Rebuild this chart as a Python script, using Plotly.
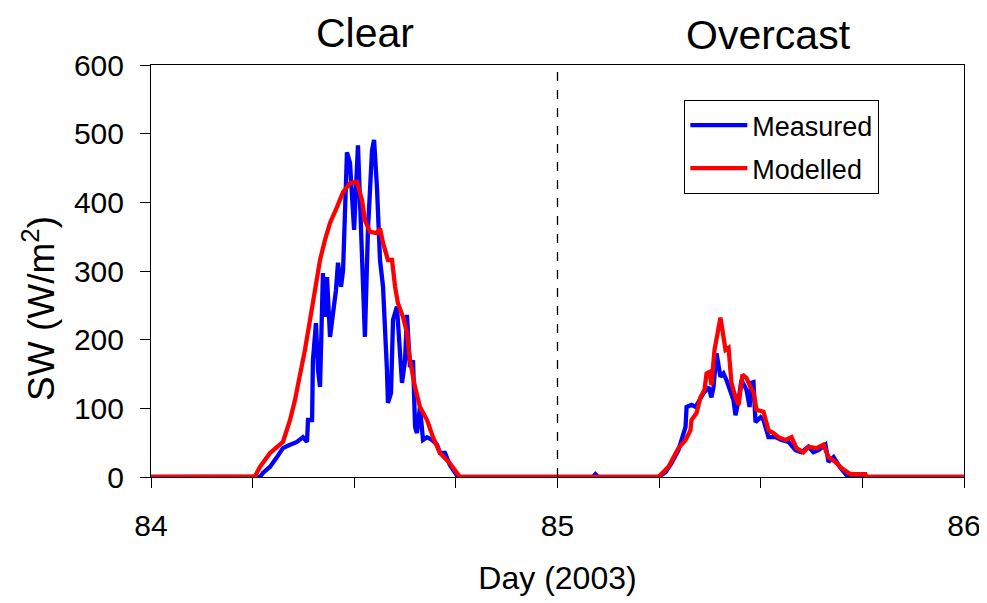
import plotly.graph_objects as go

# ---------------- data (hours of the day, SW in W/m^2) ----------------
clear_meas_hr = [6.44, 6.61, 7.03, 7.44, 7.79, 8.21, 8.62, 8.97, 9.21, 9.27, 9.51, 9.56, 9.74, 9.86, 9.98,
                 10.15, 10.27, 10.39, 10.57, 10.75, 10.92, 11.04, 11.22, 11.34, 11.57, 11.75, 11.99, 12.22,
                 12.40, 12.63, 12.81, 13.05, 13.17, 13.34, 13.52, 13.70, 13.93, 13.99, 14.17, 14.29, 14.52,
                 14.70, 14.82, 15.00, 15.11, 15.29, 15.47, 15.59, 15.70, 15.88, 16.06, 16.30, 16.59, 16.89,
                 17.06, 17.36, 17.65, 17.95, 18.13]
clear_meas_sw = [0, 6, 15, 29, 42, 47, 51, 58, 51, 83, 83, 170, 224, 156, 131,
                 297, 233, 291, 204, 239, 272, 312, 277, 301, 473, 457, 360, 483,
                 341, 204, 360, 476, 491, 422, 316, 277, 156, 108, 122, 229, 248,
                 180, 137, 170, 236, 160, 170, 73, 64, 102, 54, 58, 54, 47,
                 35, 35, 17, 6, 0]

clear_mod_hr = [6.00, 6.14, 6.44, 7.03, 7.79, 8.21, 8.50, 8.80, 9.09, 9.39, 9.68, 9.98, 10.27, 10.57, 10.98,
                11.34, 11.75, 12.16, 12.46, 12.63, 12.93, 13.34, 13.52, 13.70, 13.99, 14.23, 14.41, 14.58,
                14.88, 15.11, 15.29, 15.59, 15.88, 16.30, 16.65, 17.06, 17.65, 18.07, 18.24]
clear_mod_sw = [0, 1, 15, 35, 51, 83, 112, 146, 185, 229, 277, 316, 345, 370, 393,
                415, 428, 430, 403, 374, 357, 355, 362, 341, 316, 316, 277, 253,
                233, 210, 170, 131, 102, 83, 58, 35, 20, 6, 0]

over_meas_hr = [2.10, 2.24, 2.40, 5.96, 6.38, 6.73, 7.14, 7.44, 7.56, 7.62, 7.91, 8.15, 8.32, 8.62, 8.92,
                9.09, 9.21, 9.39, 9.62, 9.80, 9.98, 10.21, 10.39, 10.51, 10.69, 10.86, 11.16, 11.34,
                11.45, 11.57, 11.69, 11.99, 12.16, 12.46, 12.87, 13.22, 13.64, 14.05, 14.41, 14.82,
                15.11, 15.41, 15.82, 16.00, 16.30, 16.71, 17.06, 17.30]
over_meas_sw = [0, 4, 0, 0, 7, 20, 39, 64, 73, 102, 105, 102, 109, 122, 131,
                116, 131, 180, 146, 151, 141, 122, 112, 90, 112, 141, 127, 102,
                137, 138, 80, 87, 83, 58, 58, 54, 51, 39, 36, 44,
                36, 39, 47, 22, 29, 13, 3, 0]

over_mod_hr = [5.96, 6.55, 7.14, 7.56, 7.85, 7.91, 8.21, 8.44, 8.68, 8.80, 8.97, 9.09, 9.27, 9.45, 9.62,
               9.74, 9.92, 10.10, 10.27, 10.51, 10.69, 10.92, 11.16, 11.39, 11.57, 11.75, 12.16, 12.46,
               12.75, 13.05, 13.46, 13.82, 14.11, 14.52, 14.82, 15.29, 15.70, 16.00, 16.41, 16.77,
               17.30, 18.18, 18.24]
over_mod_sw = [0, 15, 42, 54, 68, 83, 93, 116, 127, 151, 153, 134, 185, 214, 232,
               214, 185, 188, 137, 116, 105, 149, 144, 131, 124, 98, 95, 68,
               64, 58, 54, 58, 42, 36, 44, 42, 47, 29, 22, 13,
               4, 4, 0]

day_clear = 84
day_over = 85
x_start, x_end = 84, 86


def series(hr1, sw1, hr2, sw2):
    x = [x_start] + [day_clear + h / 24 for h in hr1] + [day_over + h / 24 for h in hr2] + [x_end]
    y = [0] + list(sw1) + list(sw2) + [0]
    return x, y


mx, my = series(clear_meas_hr, clear_meas_sw, over_meas_hr, over_meas_sw)
dx, dy = series(clear_mod_hr, clear_mod_sw, over_mod_hr, over_mod_sw)

FONT = "Arial, Liberation Sans, sans-serif"

fig = go.Figure()
fig.add_trace(go.Scatter(x=mx, y=my, mode="lines", name="Measured", legendgroup="a",
                         line=dict(color="#0000FF", width=4.3)))
fig.add_trace(go.Scatter(x=dx, y=dy, mode="lines", name="Modelled", legendgroup="b",
                         line=dict(color="#FF0000", width=4.3)))

fig.add_shape(type="line", x0=85, x1=85, y0=0, y1=600, xref="x", yref="y",
              line=dict(color="black", width=1.3, dash="dash"))

fig.add_annotation(text="Clear", x=84.526, y=1.078, xref="x", yref="paper",
                   showarrow=False, font=dict(size=41, color="black", family=FONT), yanchor="middle")
fig.add_annotation(text="Overcast", x=85.518, y=1.074, xref="x", yref="paper",
                   showarrow=False, font=dict(size=41, color="black", family=FONT), yanchor="middle")
# y-axis title
fig.add_annotation(text="SW (W/m<sup>2</sup>)", x=-0.138, y=0.41, xref="paper", yref="paper",
                   textangle=-90, showarrow=False, xanchor="center", yanchor="middle",
                   font=dict(size=37, color="black", family=FONT))

# the page body adds an 8px margin, so the figure is 8px smaller than the window
fig.update_layout(
    width=979, height=595,
    margin=dict(l=143, r=23, t=57, b=126),
    paper_bgcolor="white", plot_bgcolor="white",
    font=dict(family=FONT, color="black"),
    showlegend=True,
    legend=dict(x=0.656, y=0.915, xanchor="left", yanchor="top",
                bordercolor="black", borderwidth=1, bgcolor="white",
                font=dict(size=27, family=FONT), itemwidth=57, tracegroupgap=5),
    xaxis=dict(range=[84, 86], tickvals=[84, 85, 86], ticktext=["84", "85", "86"],
               ticks="outside", ticklen=10, tickcolor="black", tickwidth=1,
               minor=dict(dtick=0.25, tick0=84, ticks="outside", ticklen=10, tickcolor="black"),
               showline=True, linecolor="black", linewidth=1, mirror=True,
               showgrid=False, zeroline=False, tickfont=dict(size=30),
               ticklabelstandoff=12, automargin=False,
               title=dict(text="Day (2003)", font=dict(size=32), standoff=25)),
    yaxis=dict(range=[0, 600], dtick=100, tick0=0,
               ticks="outside", ticklen=10, tickcolor="black", tickwidth=1,
               showline=True, linecolor="black", linewidth=1, mirror=True,
               showgrid=False, zeroline=False, tickfont=dict(size=30),
               ticklabelstandoff=10, automargin=False),
)

fig.write_html("out.html")
